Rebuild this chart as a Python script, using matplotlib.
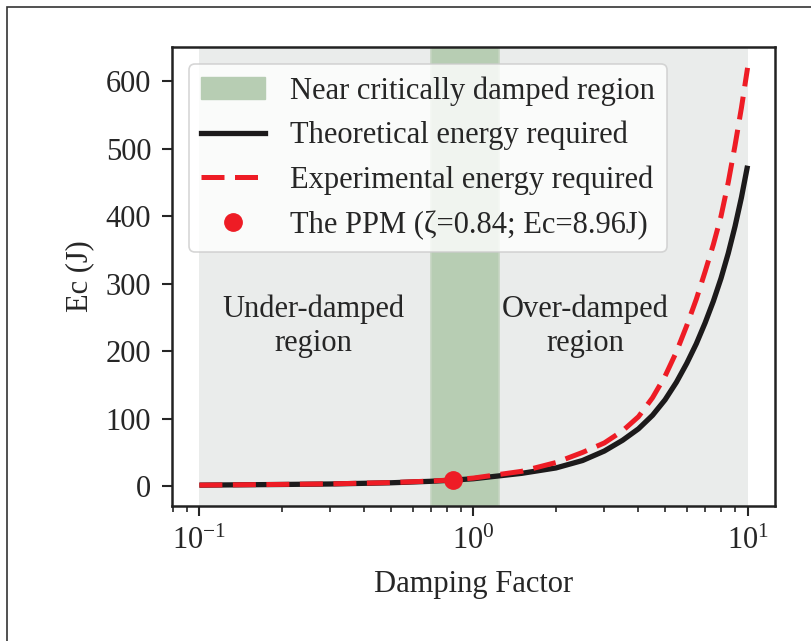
import matplotlib
matplotlib.use("Agg")
import matplotlib.pyplot as plt
from matplotlib.patches import Patch, Rectangle
from matplotlib.lines import Line2D

plt.rcParams["font.family"] = ["Liberation Serif", "DejaVu Serif"]
plt.rcParams["mathtext.fontset"] = "custom"
plt.rcParams["mathtext.rm"] = "Liberation Serif"
plt.rcParams["mathtext.it"] = "Liberation Serif:italic"
plt.rcParams["text.color"] = "#262626"
plt.rcParams["axes.labelcolor"] = "#262626"
plt.rcParams["xtick.color"] = "#262626"
plt.rcParams["ytick.color"] = "#262626"

# damping factor samples
zeta = [0.1, 0.2, 0.3, 0.5, 0.7, 0.84, 1.0, 1.5, 2.0, 2.5, 3.0, 3.5, 4.0, 4.5, 5.0, 5.5, 6.0,
        6.5, 7.0, 7.5, 8.0, 8.5, 9.0, 9.5, 10.0]
ec_theory = [1.5, 2.5, 3.2, 5.0, 7.2, 8.96, 11, 19, 27, 38, 52, 68, 85, 105, 128, 154, 182,
             211, 242, 274, 308, 345, 385, 428, 475]
ec_exp = [1.5, 2.6, 3.4, 5.3, 7.6, 9.3, 12, 22, 35, 50, 64, 82, 103, 131, 163, 199, 238,
          277, 318, 358, 400, 450, 505, 561, 620]

ppm_zeta = 0.84
ppm_ec = 8.96
region_all = (0.1, 10.0)
region_critical = (0.7, 1.24)

gray = "#eaeceb"
green = "#b7cdb3"
red = "#ee1c25"
black = "#1c1a1b"
fs = 22
dash = (4.6, 2.1)

fig = plt.figure(figsize=(8.12, 6.41), dpi=100)
ax = fig.add_axes([0.2118, 0.2106, 0.7426, 0.7161])

ax.axvspan(*region_all, color=gray, lw=0, zorder=0)
ax.axvspan(*region_critical, facecolor=green, edgecolor="#c5d5c1", lw=1.2, zorder=1)

ax.plot(zeta, ec_theory, color=black, lw=3.8, zorder=3, solid_capstyle="butt")
ax.plot(zeta, ec_exp, color=red, lw=3.6, dashes=dash, zorder=4)
ax.plot([ppm_zeta], [ppm_ec], "o", color=red, ms=12.5, zorder=5)

ax.set_xscale("log")
ax.set_yticks([0, 100, 200, 300, 400, 500, 600])
ax.set_xlabel("Damping Factor", fontsize=fs, labelpad=10)
ax.set_ylabel("Ec (J)", fontsize=fs, labelpad=8)
ax.tick_params(axis="both", which="major", labelsize=fs, length=7, width=1.5, pad=8,
               direction="out")
ax.tick_params(axis="x", which="minor", length=4, width=1.2)
for s in ax.spines.values():
    s.set_linewidth(1.8)
    s.set_color("#222222")

ax.text(0.26, 237, "Under-damped\nregion", fontsize=fs, ha="center", va="center", linespacing=1.2)
ax.text(2.55, 237, "Over-damped\nregion", fontsize=fs, ha="center", va="center", linespacing=1.2)

handles = [
    Patch(facecolor=green, edgecolor=green, label="Near critically damped region"),
    Line2D([], [], color=black, lw=3.8, label="Theoretical energy required"),
    Line2D([], [], color=red, lw=3.6, dashes=dash, label="Experimental energy required"),
    Line2D([], [], color=red, marker="o", ms=12.5, ls="none", label="The PPM (ζ=0.84; Ec=8.96J)"),
]
leg = ax.legend(handles=handles, loc="upper left", fontsize=fs, frameon=True, fancybox=True,
                framealpha=0.8, edgecolor="#cccccc", handlelength=2.1, labelspacing=0.5,
                borderaxespad=0.55)
leg.get_frame().set_linewidth(1.2)

# outer frame of the original figure
fig.patches.append(Rectangle((7 / 812, -0.5), 2.0, 1.5 - 6.5 / 641, transform=fig.transFigure,
                             fill=False, edgecolor="#333333", lw=1.2))

fig.savefig("out.png", dpi=100)
